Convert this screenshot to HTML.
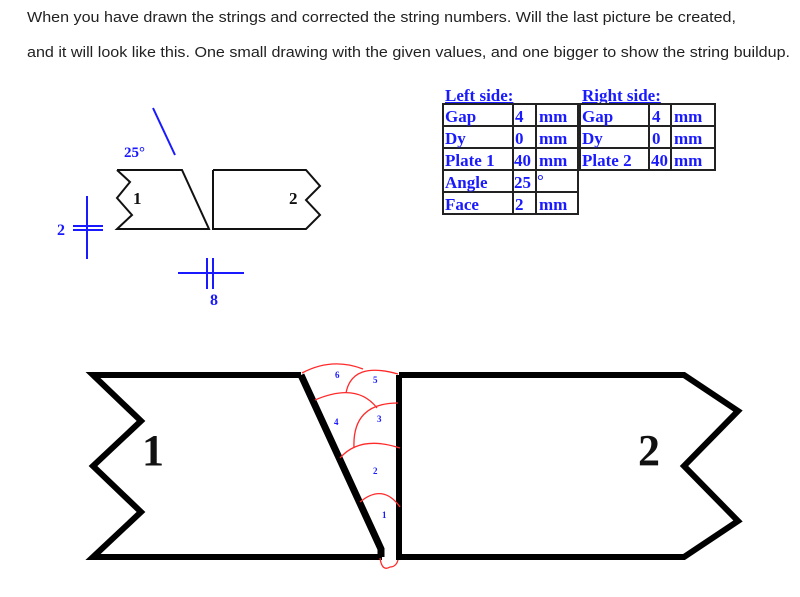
<!DOCTYPE html>
<html><head><meta charset="utf-8"><style>
html,body{margin:0;padding:0;background:#fff;}
svg{display:block;}
.hd{font-family:"Liberation Sans",sans-serif;font-size:15px;fill:#222;}
.tb{font-family:"Liberation Serif",serif;font-weight:bold;font-size:17px;fill:#1a1aff;}
.bl{font-family:"Liberation Serif",serif;font-weight:bold;fill:#1a1aff;}
.num{font-family:"Liberation Serif",serif;font-weight:bold;fill:#111;}
</style></head><body>
<svg width="800" height="597" viewBox="0 0 800 597">
<text class="hd" x="27" y="22" textLength="709" lengthAdjust="spacingAndGlyphs">When you have drawn the strings and corrected the string numbers. Will the last picture be created,</text>
<text class="hd" x="27" y="57" textLength="763" lengthAdjust="spacingAndGlyphs">and it will look like this. One small drawing with the given values, and one bigger to show the string buildup.</text>

<g>
<polyline points="117,170 182,170 209,229 117,229 132,215 117,198 130,182 117,170" fill="none" stroke="#111" stroke-width="2"/>
<polyline points="213,170 306,170 320,186 306,200 320,215 306,229 213,229 213,170" fill="none" stroke="#111" stroke-width="2"/>
<text class="num" x="133" y="204" font-size="17">1</text>
<text class="num" x="289" y="204" font-size="17">2</text>
<line x1="153" y1="108" x2="175" y2="155" stroke="#1a1aff" stroke-width="2"/>
<text class="bl" x="124" y="157" font-size="15">25°</text>
<line x1="87" y1="196" x2="87" y2="259" stroke="#1a1aff" stroke-width="2"/>
<line x1="73" y1="226" x2="103" y2="226" stroke="#1a1aff" stroke-width="2"/>
<line x1="73" y1="230" x2="103" y2="230" stroke="#1a1aff" stroke-width="2"/>
<text class="bl" x="57" y="235" font-size="16">2</text>
<line x1="178" y1="273" x2="244" y2="273" stroke="#1a1aff" stroke-width="2"/>
<line x1="207" y1="258" x2="207" y2="289" stroke="#1a1aff" stroke-width="2"/>
<line x1="213" y1="258" x2="213" y2="289" stroke="#1a1aff" stroke-width="2"/>
<text class="bl" x="210" y="305" font-size="16">8</text>
</g>

<g stroke="#222" stroke-width="2" fill="none">
<text class="tb" x="445" y="101" stroke="none" text-decoration="underline">Left side:</text>
<text class="tb" x="582" y="101" stroke="none" text-decoration="underline">Right side:</text>
<rect x="443" y="104" width="135" height="110"/>
<line x1="443" y1="126" x2="578" y2="126"/><line x1="443" y1="148" x2="578" y2="148"/><line x1="443" y1="170" x2="578" y2="170"/><line x1="443" y1="192" x2="578" y2="192"/>
<line x1="513" y1="104" x2="513" y2="214"/><line x1="536" y1="104" x2="536" y2="214"/>
<rect x="580" y="104" width="135" height="66"/>
<line x1="580" y1="126" x2="715" y2="126"/><line x1="580" y1="148" x2="715" y2="148"/>
<line x1="649" y1="104" x2="649" y2="170"/><line x1="671" y1="104" x2="671" y2="170"/>
<g stroke="none">
<text class="tb" x="445" y="122">Gap</text><text class="tb" x="515" y="122">4</text><text class="tb" x="539" y="122">mm</text>
<text class="tb" x="445" y="144">Dy</text><text class="tb" x="515" y="144">0</text><text class="tb" x="539" y="144">mm</text>
<text class="tb" x="445" y="166">Plate 1</text><text class="tb" x="514" y="166">40</text><text class="tb" x="539" y="166">mm</text>
<text class="tb" x="445" y="188">Angle</text><text class="tb" x="514" y="188">25</text><text class="tb" x="537" y="186" font-size="14">°</text>
<text class="tb" x="445" y="210">Face</text><text class="tb" x="515" y="210">2</text><text class="tb" x="539" y="210">mm</text>
<text class="tb" x="582" y="122">Gap</text><text class="tb" x="652" y="122">4</text><text class="tb" x="674" y="122">mm</text>
<text class="tb" x="582" y="144">Dy</text><text class="tb" x="652" y="144">0</text><text class="tb" x="674" y="144">mm</text>
<text class="tb" x="582" y="166">Plate 2</text><text class="tb" x="651" y="166">40</text><text class="tb" x="674" y="166">mm</text>
</g>
</g>

<g>
<polyline points="301,375 93,375 141,421 93,466 141,512 93,557 382,557" fill="none" stroke="#000" stroke-width="6" stroke-linejoin="miter"/>
<polyline points="301,375 381,549 381,557" fill="none" stroke="#000" stroke-width="7"/>
<polyline points="399,375 684,375 738,411 684,466 738,521 684,557 399,557 399,375" fill="none" stroke="#000" stroke-width="6"/>
<text class="num" x="142" y="465" font-size="44">1</text>
<text class="num" x="638" y="465" font-size="44">2</text>
<g fill="none" stroke="#ff2a2a" stroke-width="1.3">
<path d="M302,373 Q332,357 363,369"/>
<path d="M346,393 Q352,361 398,374"/>
<path d="M315,400 Q357,382 377,408"/>
<path d="M354,448 Q352,403 398,403"/>
<path d="M340,458 Q360,435 400,448"/>
<path d="M360,502 Q383,483 400,507"/>
<path d="M380,558 Q382,572 390,567 Q396,567 398,560"/>
</g>
<g class="bl" font-size="9">
<text x="335" y="378">6</text><text x="373" y="383">5</text><text x="334" y="425">4</text><text x="377" y="422">3</text><text x="373" y="474">2</text><text x="382" y="518">1</text>
</g>
</g>
</svg>
</body></html>
